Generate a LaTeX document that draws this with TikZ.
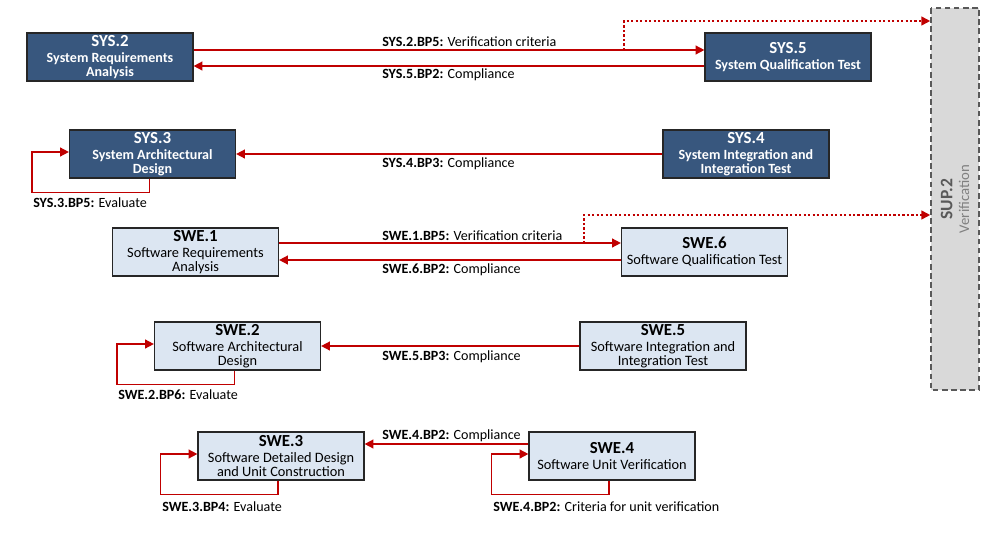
\documentclass[tikz,border=0pt]{standalone}
\usepackage{fontspec}
\setmainfont{Carlito}
\usetikzlibrary{arrows.meta, positioning, calc}
\usepackage{xcolor}
\definecolor{sysblue}{RGB}{56,87,126}
\definecolor{swefill}{RGB}{220,230,242}
\definecolor{boxline}{RGB}{38,38,38}
\definecolor{linkred}{RGB}{192,0,0}
\definecolor{supfill}{RGB}{217,217,217}
\definecolor{supline}{RGB}{89,89,89}
\definecolor{suptext}{RGB}{128,128,128}

\begin{document}
\begin{tikzpicture}[
    x=0.025cm, y=-0.025cm,
    box/.style={rectangle, minimum width=4.15cm, minimum height=1.2cm, text centered, align=center, draw=boxline, line width=0.8pt, inner sep=1pt, font=\fontsize{10.2}{10}\selectfont},
    sysbox/.style={box, fill=sysblue, text=white, font=\bfseries\fontsize{10}{10}\selectfont},
    swebox/.style={box, fill=swefill, text=black},
    supbox/.style={rectangle, rotate=90, minimum width=9.55cm, minimum height=1.2cm, fill=supfill, draw=supline, line width=1.1pt, dash pattern=on 4pt off 2.5pt, align=center, text=supline},
    arrow/.style={-{Triangle[length=2.2mm, width=2.2mm]}, line width=1.1pt, linkred},
    dotarrow/.style={arrow, dash pattern=on 1.6pt off 1.6pt},
    lbl/.style={font=\fontsize{10}{11}\selectfont, inner sep=0pt, anchor=base west},
]
\useasboundingbox (0,0) rectangle (1006,540);

% System level
\node[sysbox] (sys2) at (110,57) {{\fontsize{12}{12}\selectfont SYS.2}\\[1.4pt]System Requirements\\Analysis};
\node[sysbox] (sys5) at (788,57) {{\fontsize{12}{12}\selectfont SYS.5}\\[1.4pt]System Qualification Test};
\node[sysbox] (sys3) at (152.5,154) {{\fontsize{12}{12}\selectfont SYS.3}\\[1.4pt]System Architectural\\Design};
\node[sysbox] (sys4) at (746,154) {{\fontsize{12}{12}\selectfont SYS.4}\\[1.4pt]System Integration and\\Integration Test};

% Software level
\node[swebox] (swe1) at (195.5,252) {{\fontsize{12}{12}\selectfont\bfseries SWE.1}\\[1.4pt]Software Requirements\\Analysis};
\node[swebox] (swe6) at (704.5,252) {{\fontsize{12}{12}\selectfont\bfseries SWE.6}\\[1.4pt]Software Qualification Test};
\node[swebox] (swe2) at (237.5,346) {{\fontsize{12}{12}\selectfont\bfseries SWE.2}\\[1.4pt]Software Architectural\\Design};
\node[swebox] (swe5) at (663,346) {{\fontsize{12}{12}\selectfont\bfseries SWE.5}\\[1.4pt]Software Integration and\\Integration Test};
\node[swebox] (swe3) at (281,456) {{\fontsize{12}{12}\selectfont\bfseries SWE.3}\\[1.4pt]Software Detailed Design\\and Unit Construction};
\node[swebox] (swe4) at (612,456) {{\fontsize{12}{12}\selectfont\bfseries SWE.4}\\[1.4pt]Software Unit Verification};

% Verification
\node[supbox] (sup2) at (955,199) {{\fontsize{12.5}{13}\selectfont\bfseries SUP.2}\\{\fontsize{10.5}{11}\selectfont\color{suptext}Verification}};

% Arrows
\draw[arrow] ([yshift=0.175cm]sys2.east) -- ([yshift=0.175cm]sys5.west);
\draw[arrow] ([yshift=-0.225cm]sys5.west) -- ([yshift=-0.225cm]sys2.east);
\draw[arrow] (sys4) -- (sys3);
\draw[arrow] ([yshift=0.225cm]swe1.east) -- ([yshift=0.225cm]swe6.west);
\draw[arrow] ([yshift=-0.2cm]swe6.west) -- ([yshift=-0.2cm]swe1.east);
\draw[arrow] (swe5) -- (swe2);
\draw[arrow] ([yshift=0.3cm]swe4.west) -- ([yshift=0.3cm]swe3.east);

% Dotted links to SUP.2
\coordinate (sysfork) at (624,50);
\coordinate (swefork) at (584,243);
\draw[dotarrow] (sysfork) |- (sup2.north |- 0,21);
\draw[dotarrow] (swefork) |- (sup2.north |- 0,215);

% Self loops
\draw[arrow] ([xshift=-0.07cm]sys3.south) -- ++(0,14) -| ([xshift=-0.925cm,yshift=0.05cm]sys3.west) -- ([yshift=0.05cm]sys3.west);
\draw[arrow] ([xshift=-0.07cm]swe2.south) -- ++(0,14) -| ([xshift=-0.925cm,yshift=0.05cm]swe2.west) -- ([yshift=0.05cm]swe2.west);
\draw[arrow] ([xshift=-0.07cm]swe3.south) -- ++(0,14) -| ([xshift=-0.925cm,yshift=0.05cm]swe3.west) -- ([yshift=0.05cm]swe3.west);
\draw[arrow] ([xshift=-0.07cm]swe4.south) -- ++(0,14) -| ([xshift=-0.925cm,yshift=0.05cm]swe4.west) -- ([yshift=0.05cm]swe4.west);

% Labels
\node[lbl] (lsys2) at (382,46) {\textbf{SYS.2.BP5:} Verification criteria};
\node[lbl] (lsys5) at (382,78) {\textbf{SYS.5.BP2:} Compliance};
\node[lbl] (lsys4) at (382,167) {\textbf{SYS.4.BP3:} Compliance};
\node[lbl] (lsys3) at (33,207) {\textbf{SYS.3.BP5:} Evaluate};
\node[lbl] (lswe1) at (382,240) {\textbf{SWE.1.BP5:} Verification criteria};
\node[lbl] (lswe6) at (382,273) {\textbf{SWE.6.BP2:} Compliance};
\node[lbl] (lswe5) at (382,360) {\textbf{SWE.5.BP3:} Compliance};
\node[lbl] (lswe2) at (118,399) {\textbf{SWE.2.BP6:} Evaluate};
\node[lbl] (lswe4c) at (382,439) {\textbf{SWE.4.BP2:} Compliance};
\node[lbl] (lswe3) at (162,511) {\textbf{SWE.3.BP4:} Evaluate};
\node[lbl] (lswe4) at (493,511) {\textbf{SWE.4.BP2:} Criteria for unit verification};

\end{tikzpicture}
\end{document}
